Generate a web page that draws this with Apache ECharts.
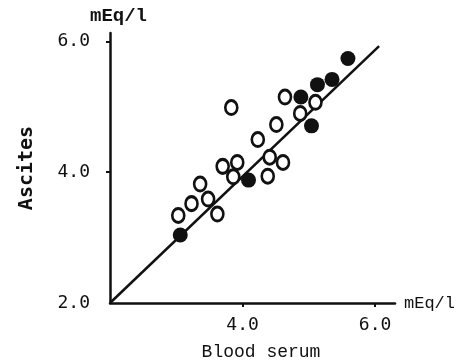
<!DOCTYPE html>
<html>
<head>
<meta charset="utf-8">
<script src="https://cdn.jsdelivr.net/npm/echarts@6/dist/echarts.min.js"></script>
<style>
  html, body { margin: 0; padding: 0; background: #fff; }
  #chart { width: 472px; height: 364px; }
</style>
</head>
<body>
<div id="chart"></div>
<script>
// blood serum (x) vs ascites (y), mEq/l
const openPoints = [
  [3.03, 3.34], [3.23, 3.52], [3.36, 3.82], [3.48, 3.59], [3.62, 3.36],
  [3.70, 4.09], [3.86, 3.93], [3.92, 4.15], [3.83, 4.99], [4.23, 4.50],
  [4.38, 3.94], [4.41, 4.23], [4.61, 4.15], [4.51, 4.73], [4.64, 5.15],
  [4.87, 4.90], [5.10, 5.07],
];
const filledPoints = [
  [3.06, 3.04], [4.09, 3.88], [5.04, 4.71], [4.88, 5.15],
  [5.13, 5.34], [5.35, 5.42], [5.59, 5.74],
];
// regression line end points
const fitLine = [[2.0, 2.0], [6.06, 5.93]];

const xLabels = [4, 6];
const yLabels = [2, 4, 6];
const xTicks = [4, 6];
const yTicks = [4, 6];

const ink = "#111";
const labelFont = "DejaVu Sans Mono";
const nameFont = "Liberation Mono";

const chart = echarts.init(document.getElementById("chart"));

const option = {
  backgroundColor: "#fff",
  animation: false,
  grid: {
    left: 110,
    top: 33,
    width: 285,
    height: 270,
  },
  xAxis: {
    type: "value",
    min: 2,
    max: 6.3,
    interval: 2,
    splitLine: { show: false },
    axisLine: { show: true, onZero: false, lineStyle: { color: ink, width: 2.5 } },
    axisTick: {
      show: true,
      length: 4,
      customValues: xTicks,
      lineStyle: { color: ink, width: 2 },
    },
    axisLabel: {
      customValues: xLabels,
      margin: 13,
      color: ink,
      fontFamily: labelFont,
      fontSize: 18,
      formatter: (v) => v.toFixed(1),
    },
  },
  yAxis: {
    type: "value",
    min: 2,
    max: 6.13,
    interval: 2,
    splitLine: { show: false },
    axisLine: { show: true, onZero: false, lineStyle: { color: ink, width: 2.5 } },
    axisTick: {
      show: true,
      length: 4,
      customValues: yTicks,
      lineStyle: { color: ink, width: 2 },
    },
    axisLabel: {
      customValues: yLabels,
      margin: 20,
      color: ink,
      fontFamily: labelFont,
      fontSize: 18,
      formatter: (v) => v.toFixed(1),
    },
  },
  series: [
    {
      type: "line",
      data: fitLine,
      symbol: "none",
      lineStyle: { color: ink, width: 2.5 },
      z: 1,
    },
    {
      type: "scatter",
      data: openPoints,
      symbol: "circle",
      symbolSize: [12, 14],
      itemStyle: { color: "#fff", borderColor: ink, borderWidth: 2.8, opacity: 1 },
      z: 3,
    },
    {
      type: "scatter",
      data: filledPoints,
      symbol: "circle",
      symbolSize: 15,
      itemStyle: { color: ink, opacity: 1 },
      z: 4,
    },
  ],
  graphic: [
    {
      type: "text",
      left: 90,
      top: 7,
      style: {
        text: "mEq/l",
        fill: ink,
        font: "bold 19px " + nameFont,
      },
    },
    {
      type: "text",
      left: 404,
      top: 295,
      style: {
        text: "mEq/l",
        fill: ink,
        font: "17px " + nameFont,
      },
    },
    {
      type: "text",
      x: 261,
      y: 352,
      style: {
        text: "Blood serum",
        fill: ink,
        align: "center",
        verticalAlign: "middle",
        font: "18px " + nameFont,
      },
    },
    {
      type: "text",
      x: 27,
      y: 168,
      rotation: Math.PI / 2,
      style: {
        text: "Ascites",
        fill: ink,
        align: "center",
        verticalAlign: "middle",
        font: "bold 20px " + labelFont,
      },
    },
  ],
};

chart.setOption(option);
</script>
</body>
</html>
